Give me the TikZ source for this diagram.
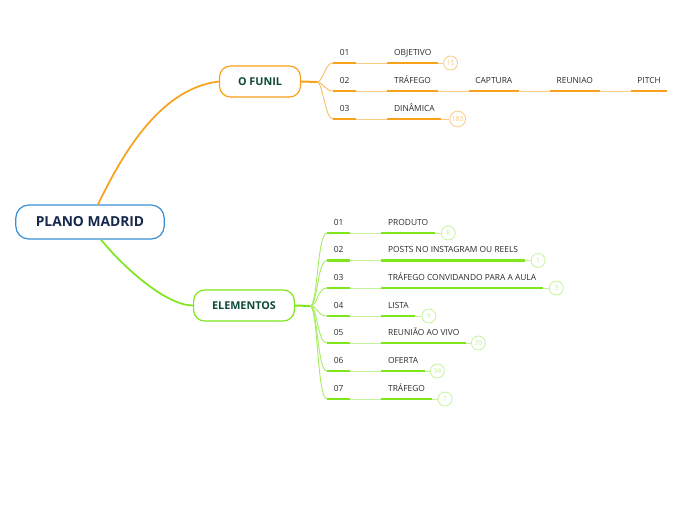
\documentclass[tikz,border=0pt]{standalone}
\usepackage{fontspec}
\setmainfont{Open Sans}
\usetikzlibrary{positioning}
\definecolor{Navy}{HTML}{16294D}
\definecolor{Pine}{HTML}{0E4A3A}
\definecolor{Sky}{HTML}{3B8FD3}
\definecolor{Amber}{HTML}{F8A11B}
\definecolor{SoftAmber}{HTML}{FBCB85}
\definecolor{Lime}{HTML}{80E61C}
\definecolor{SoftLime}{HTML}{C2F39A}
\definecolor{Ink}{HTML}{2B2B2B}
\tikzset{
  root/.style={draw=Sky,line width=1.2pt,fill=white,rounded corners=13pt,minimum height=34pt,inner xsep=20pt,font=\fontsize{13.8}{16}\selectfont\bfseries,text=Navy},
  topic/.style={draw=#1,line width=1.2pt,fill=white,rounded corners=11pt,minimum height=31pt,inner xsep=18.5pt,font=\fontsize{10.8}{12}\selectfont\bfseries,text=Pine},
  num/.style={anchor=south west,minimum width=23pt,inner xsep=0pt,inner ysep=7.5pt,text height=6pt,text depth=0pt,font=\fontsize{8.4}{9}\selectfont,text=Ink},
  leaf/.style={anchor=south west,inner xsep=6.5pt,inner ysep=7.5pt,text height=6pt,text depth=0pt,font=\fontsize{8.4}{9}\selectfont,text=Ink},
  badge/.style={circle,draw=#1,text=#1,line width=0.8pt,inner sep=1pt,minimum size=14pt,font=\fontsize{7}{8}\selectfont},
  stem/.style={draw=#1,line width=1.7pt},
  trunk/.style={draw=#1,line width=2pt},
  twig/.style={draw=#1,line width=0.9pt},
  bar/.style={draw=#1,line width=2.2pt},
  thread/.style={draw=#1,line width=0.9pt}
}

\begin{document}
\begin{tikzpicture}[x=1pt,y=-1pt]
  \useasboundingbox[fill=white] (0,0) rectangle (696,520);

  \node[root] (plano) at (90,222) {PLANO MADRID};
  \node[topic=Amber] (funil) at (260,81.5) {O FUNIL};
  \node[topic=Lime] (elem) at (244,305.5) {ELEMENTOS};
  \draw[stem=Amber] ([xshift=8pt]plano.north) .. controls +(22,-45) and +(-61,7) .. (funil.west);
  \draw[stem=Lime] ([xshift=11pt]plano.south) .. controls +(20,25) and +(-28,0) .. (elem.west);

  % o funil
  \coordinate (funilHub) at (317,82);
  \node[num] (f1) at (333,63) {01};
  \node[num] (f2) at (333,91) {02};
  \node[num] (f3) at (333,119) {03};
  \node[right=31pt of f1.south east,leaf] (objetivo) {OBJETIVO};
  \node[right=31pt of f2.south east,leaf] (trafego) {TRÁFEGO};
  \node[right=31pt of trafego.south east,leaf] (captura) {CAPTURA};
  \node[right=31pt of captura.south east,leaf] (reuniao) {REUNIAO};
  \node[right=31pt of reuniao.south east,leaf] (pitch) {PITCH};
  \node[right=31pt of f3.south east,leaf] (dinamica) {DINÂMICA};
  \node[right=5pt of objetivo.south east,badge=SoftAmber] (cObj) {15};
  \node[right=8pt of dinamica.south east,badge=SoftAmber] (cDin) {183};
  \draw[trunk=Amber] (funil.east) -- (funilHub);
  \foreach \n in {f1,f2,f3}
    \draw[twig=Amber!70] (funilHub) .. controls +(6,0) and +(-8,0) .. (\n.south west);
  \foreach \n in {f1,f2,f3,objetivo,trafego,captura,reuniao,pitch,dinamica}
    \draw[bar=Amber] (\n.south west) -- (\n.south east);
  \draw[thread=SoftAmber] (f1.south east) -- (objetivo.south west);
  \draw[thread=SoftAmber] (objetivo.south east) -- (cObj);
  \draw[thread=SoftAmber] (f2.south east) -- (trafego.south west);
  \draw[thread=SoftAmber] (trafego.south east) -- (captura.south west);
  \draw[thread=SoftAmber] (captura.south east) -- (reuniao.south west);
  \draw[thread=SoftAmber] (reuniao.south east) -- (pitch.south west);
  \draw[thread=SoftAmber] (f3.south east) -- (dinamica.south west);
  \draw[thread=SoftAmber] (dinamica.south east) -- (cDin);

  % elementos
  \coordinate (elemHub) at (310,306);
  \node[num] (e1) at (327,233) {01};
  \node[num] (e2) at (327,260.5) {02};
  \node[num] (e3) at (327,288) {03};
  \node[num] (e4) at (327,316) {04};
  \node[num] (e5) at (327,343) {05};
  \node[num] (e6) at (327,371) {06};
  \node[num] (e7) at (327,399) {07};
  \node[right=31pt of e1.south east,leaf] (produto) {PRODUTO};
  \node[right=31pt of e2.south east,leaf] (posts) {POSTS NO INSTAGRAM OU REELS};
  \node[right=31pt of e3.south east,leaf] (convite) {TRÁFEGO CONVIDANDO PARA A AULA};
  \node[right=31pt of e4.south east,leaf] (lista) {LISTA};
  \node[right=31pt of e5.south east,leaf] (aovivo) {REUNIÃO AO VIVO};
  \node[right=31pt of e6.south east,leaf] (oferta) {OFERTA};
  \node[right=31pt of e7.south east,leaf] (trafegoB) {TRÁFEGO};
  \node[right=6pt of produto.south east,badge=SoftLime] (cProd) {8};
  \node[right=6pt of posts.south east,badge=SoftLime] (cPosts) {1};
  \node[right=6pt of convite.south east,badge=SoftLime] (cConv) {3};
  \node[right=6pt of lista.south east,badge=SoftLime] (cLista) {9};
  \node[right=5pt of aovivo.south east,badge=SoftLime] (cVivo) {39};
  \node[right=5pt of oferta.south east,badge=SoftLime] (cOferta) {34};
  \node[right=6pt of trafegoB.south east,badge=SoftLime] (cTraf) {7};
  \draw[trunk=Lime] (elem.east) -- (elemHub);
  \foreach \n in {e1,e2,e3,e4,e5,e6,e7}
    \draw[twig=Lime!70] (elemHub) .. controls +(8,0) and +(-10,0) .. (\n.south west);
  \foreach \n/\m/\c in {e1/produto/cProd,e2/posts/cPosts,e3/convite/cConv,e4/lista/cLista,e5/aovivo/cVivo,e6/oferta/cOferta,e7/trafegoB/cTraf}{
    \draw[bar=Lime] (\n.south west) -- (\n.south east);
    \draw[thread=SoftLime] (\n.south east) -- (\m.south west);
    \draw[bar=Lime] (\m.south west) -- (\m.south east);
    \draw[thread=SoftLime] (\m.south east) -- (\c);
  }
\end{tikzpicture}
\end{document}
